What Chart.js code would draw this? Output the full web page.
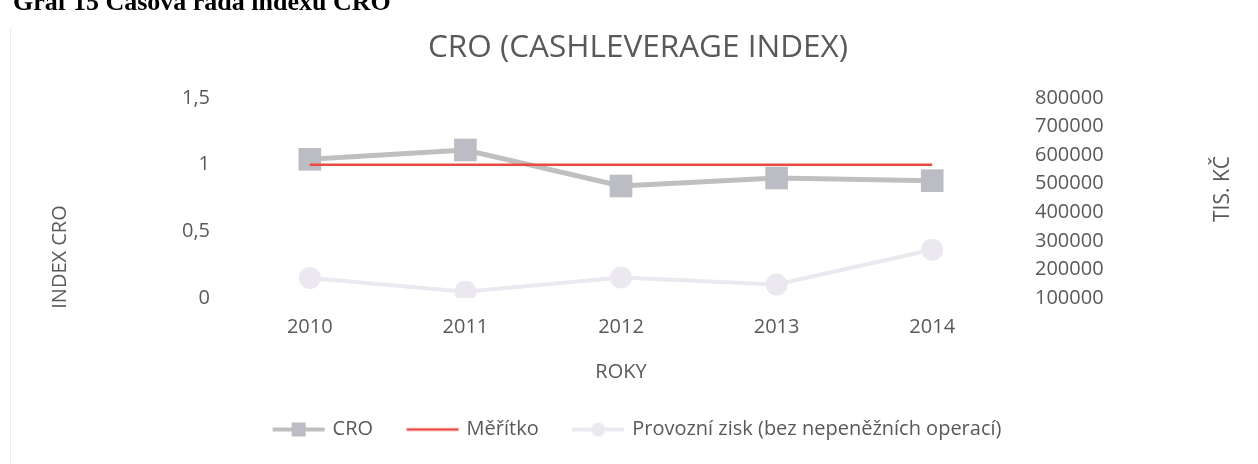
<!DOCTYPE html>
<html><head><meta charset="utf-8">
<script src="https://cdn.jsdelivr.net/npm/chart.js@4.4.1/dist/chart.umd.min.js"></script>
<style>
html,body{margin:0;padding:0;background:#fff;overflow:hidden;}
#wrap{position:relative;width:1258px;height:464px;}
#c{position:absolute;left:0;top:0;}
#hdr{position:absolute;left:13px;top:-11px;font-family:'Liberation Serif','Times New Roman',serif;font-weight:bold;font-size:26px;line-height:26px;color:#000;white-space:nowrap;}
#frame{position:absolute;left:10px;top:28px;width:1px;height:436px;background:#ececec;}
</style></head><body>
<div id="wrap">
<canvas id="c" width="1258" height="464"></canvas>
<div id="frame"></div>
<div id="hdr">Graf 15 Časová řada indexu CRO</div>
</div>
<script>
const years = ['2010', '2011', '2012', '2013', '2014'];
const croValues = [1.04, 1.11, 0.84, 0.90, 0.88];
const meritkoValues = [1, 1, 1, 1, 1];
const ziskValues = [170000, 122000, 172000, 147000, 269000];
const leftTickLabels = ['0', '0,5', '1', '1,5'];
const rightTickLabels = ['100000', '200000', '300000', '400000', '500000', '600000', '700000', '800000'];
const seriesNames = ['CRO', 'Měřítko', 'Provozní zisk (bez nepeněžních operací)'];
const chartTitle = 'CRO (CASHLEVERAGE INDEX)';
const xTitle = 'ROKY';
const leftTitle = 'INDEX CRO';
const rightTitle = 'TIS. KČ';

const TEXT = '#595959';
const FONT = "'Open Sans', 'DejaVu Sans', sans-serif";
const CRO_LINE = '#bfbfbf', CRO_MARK = '#bcbcc4';
const RED = '#e9493f';
const ZISK = '#ebe8ef';

function legendImg(kind) {
  const c = document.createElement('canvas');
  c.width = 58; c.height = 22;
  const g = c.getContext('2d');
  g.lineCap = 'butt';
  if (kind === 0) {
    g.strokeStyle = CRO_LINE; g.lineWidth = 4;
    g.beginPath(); g.moveTo(3, 11); g.lineTo(55, 11); g.stroke();
    g.fillStyle = CRO_MARK; g.fillRect(22, 4, 14, 14);
  } else if (kind === 1) {
    g.strokeStyle = RED; g.lineWidth = 2.5;
    g.beginPath(); g.moveTo(3, 11); g.lineTo(55, 11); g.stroke();
  } else {
    g.strokeStyle = ZISK; g.lineWidth = 4;
    g.beginPath(); g.moveTo(3, 11); g.lineTo(55, 11); g.stroke();
    g.fillStyle = ZISK; g.beginPath(); g.arc(29, 11, 7, 0, Math.PI * 2); g.fill();
  }
  return c;
}
const legendImgs = [legendImg(0), legendImg(1), legendImg(2)];

const axisTitlePlugin = {
  id: 'axisTitles',
  afterDraw(chart) {
    const ctx = chart.ctx;
    ctx.save();
    ctx.fillStyle = TEXT;
    ctx.font = "20px " + FONT;
    ctx.textAlign = 'center';
    ctx.textBaseline = 'middle';
    ctx.translate(60, 257); ctx.rotate(-Math.PI / 2);
    ctx.fillText(leftTitle, 0, 0);
    ctx.restore();
    ctx.save();
    ctx.fillStyle = TEXT;
    ctx.font = "21px " + FONT;
    ctx.textAlign = 'center';
    ctx.textBaseline = 'middle';
    ctx.translate(1223, 189); ctx.rotate(-Math.PI / 2);
    ctx.fillText(rightTitle, 0, 0);
    ctx.restore();
  }
};

new Chart(document.getElementById('c'), {
  type: 'line',
  data: {
    labels: years,
    datasets: [
      {
        label: seriesNames[0], data: croValues, yAxisID: 'y',
        borderColor: CRO_LINE, borderWidth: 5, backgroundColor: CRO_MARK,
        pointStyle: 'rect', pointRadius: 16, pointBorderWidth: 0,
        pointBackgroundColor: CRO_MARK, tension: 0, order: 2
      },
      {
        label: seriesNames[1], data: meritkoValues, yAxisID: 'y',
        borderColor: RED, borderWidth: 2.5, pointRadius: 0, tension: 0, order: 1
      },
      {
        label: seriesNames[2], data: ziskValues, yAxisID: 'y2',
        borderColor: ZISK, borderWidth: 4, backgroundColor: ZISK,
        pointStyle: 'circle', pointRadius: 11, pointBorderWidth: 0,
        pointBackgroundColor: ZISK, tension: 0, order: 3
      }
    ]
  },
  options: {
    responsive: false,
    animation: false,
    events: [],
    layout: { padding: { left: 18, right: 0, top: 0, bottom: 14.5 } },
    scales: {
      x: {
        type: 'category', offset: true,
        grid: { display: false, drawTicks: false, tickLength: 0 },
        border: { display: false },
        ticks: { color: TEXT, font: { family: FONT, size: 20 }, padding: 17, maxRotation: 0 },
        title: { display: true, text: xTitle, color: TEXT, font: { family: FONT, size: 20 }, padding: { top: 4, bottom: 0 } }
      },
      y: {
        position: 'left', min: 0, max: 1.5,
        grid: { display: false, drawTicks: false, tickLength: 0 },
        border: { display: false },
        ticks: { stepSize: 0.5, color: TEXT, font: { family: FONT, size: 20 }, padding: 22,
          callback: (v) => leftTickLabels[Math.round(v / 0.5)] },
        afterFit: (s) => { s.width = 214; }
      },
      y2: {
        position: 'right', min: 100000, max: 800000,
        grid: { display: false, drawTicks: false, tickLength: 0 },
        border: { display: false },
        ticks: { stepSize: 100000, color: TEXT, font: { family: FONT, size: 20 }, padding: 25,
          callback: (v) => rightTickLabels[Math.round(v / 100000) - 1] },
        afterFit: (s) => { s.width = 248; }
      }
    },
    plugins: {
      title: { display: true, text: chartTitle, color: TEXT, font: { family: FONT, size: 31.5, weight: 'normal' }, padding: { top: 29, bottom: 31.2 } },
      legend: {
        display: true, position: 'bottom',
        labels: {
          usePointStyle: true, pointStyleWidth: 48, padding: 35.5,
          color: TEXT, font: { family: FONT, size: 20 },
          generateLabels: () => seriesNames.map((name, i) => ({
            text: name, pointStyle: legendImgs[i], fillStyle: 'rgba(0,0,0,0)',
            strokeStyle: 'rgba(0,0,0,0)', lineWidth: 0, fontColor: TEXT, datasetIndex: i, hidden: false
          }))
        }
      },
      tooltip: { enabled: false }
    }
  },
  plugins: [axisTitlePlugin]
});
</script>
</body></html>
